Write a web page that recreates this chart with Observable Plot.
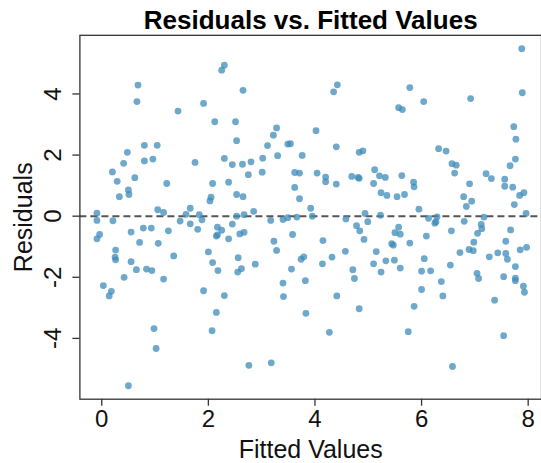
<!DOCTYPE html>
<html>
<head>
<meta charset="utf-8">
<script src="https://cdn.jsdelivr.net/npm/d3@7"></script>
<script src="https://cdn.jsdelivr.net/npm/@observablehq/plot@0.6"></script>
<style>
  html, body { margin: 0; padding: 0; background: #fff; }
</style>
</head>
<body>
<div id="chart"></div>
<script>
const fitted = [
  0.68,0.66,1.43,1.91,2.25,2.30,2.12,2.51,2.53,0.80,
  1.04,0.48,0.41,0.80,0.96,1.75,2.30,2.45,0.20,0.29,
  0.62,1.22,2.08,2.38,0.50,0.51,0.33,2.05,2.03,2.53,
  1.05,1.16,1.66,-0.09,1.58,1.83,2.53,-0.09,0.21,-0.04,
  -0.09,0.55,0.71,0.78,0.93,1.06,1.25,1.47,1.66,1.88,
  1.80,2.17,2.25,2.15,2.17,2.45,2.67,2.85,2.38,2.59,
  2.67,2.65,3.62,3.71,3.17,3.40,3.49,3.66,3.58,3.23,
  3.28,0.26,0.25,0.26,0.55,0.65,0.84,0.94,0.42,1.16,
  1.35,2.00,2.08,2.18,2.56,2.55,0.03,0.18,0.14,1.91,
  2.30,2.15,2.07,0.98,1.02,0.50,
  2.65,2.64,2.80,2.75,3.01,3.02,3.11,3.22,3.28,3.30,
  3.49,3.54,3.76,3.62,3.71,4.02,4.04,4.35,4.42,4.40,
  4.20,4.20,4.40,4.83,4.90,4.69,4.81,4.83,5.12,5.21,
  5.32,5.10,5.24,5.35,3.92,
  3.95,4.58,4.78,4.84,4.92,4.94,4.99,5.23,5.54,5.68,
  5.85,5.86,5.95,5.57,5.50,5.60,5.44,5.47,5.78,6.09,
  6.13,6.29,6.27,6.25,6.56,6.80,6.79,6.84,6.94,6.90,
  6.98,7.12,7.13,7.05,7.17,7.56,7.71,7.84,7.92,7.74,
  7.96,7.67,7.58,4.15,
  7.88,7.89,5.78,6.04,5.57,5.64,6.92,7.73,7.77,7.76,
  7.66,6.32,6.46,6.57,6.65,6.62,7.21,7.31,7.56,5.63,
  2.62,2.88,3.56,3.40,3.41,3.74,3.79,3.82,3.83,4.14,
  4.32,4.41,4.27,2.76,3.18,4.57,4.71,4.74,4.83,5.15,
  5.10,5.24,5.33,
  5.49,5.60,6.05,6.00,6.17,6.37,6.00,6.40,5.86,5.75,
  6.58,6.54,6.72,6.89,6.97,7.04,7.07,7.27,7.43,7.58,
  7.61,7.76,7.85,7.97,7.54,7.76,7.76,7.91,7.93,7.37,
  7.54
];
const residuals = [
  4.29,3.75,3.44,3.69,4.78,4.94,3.09,3.09,2.47,2.32,
  2.32,2.09,1.73,1.81,1.87,1.76,1.89,1.69,1.45,1.14,
  1.26,1.07,1.07,1.11,0.86,0.71,0.64,0.62,0.50,0.71,
  0.21,0.12,0.26,0.10,0.06,0.05,0.00,-0.14,-0.15,-0.60,
  -0.74,-0.52,-0.86,-0.39,-0.39,-0.89,-0.48,-0.16,-0.25,-0.12,
  -0.43,-0.36,-0.46,-0.65,-0.61,-0.26,0.05,0.16,-0.74,-0.58,
  -0.53,0.64,0.94,0.57,-0.14,-0.11,-0.05,-0.03,-0.60,-0.82,
  -1.12,-1.11,-1.34,-1.43,-1.49,-1.75,-1.73,-1.78,-2.00,-2.06,
  -1.30,-1.17,-1.52,-1.78,-1.36,-1.83,-2.27,-2.46,-2.61,-2.44,
  -2.60,-3.15,-3.75,-3.68,-4.33,-5.55,
  4.12,1.70,1.78,1.36,1.44,1.90,2.31,2.65,2.89,1.98,
  2.36,2.37,1.99,1.43,1.41,2.80,1.41,4.07,4.30,2.27,
  1.28,1.13,1.05,2.09,2.14,1.30,1.27,1.24,1.52,1.32,
  1.27,1.07,0.77,0.68,0.26,
  0.00,-0.09,-0.31,-0.48,-0.76,0.09,-0.18,0.03,0.64,0.71,
  1.11,0.96,0.23,-0.36,-0.54,-0.59,-0.90,-0.95,-0.88,-0.65,
  -0.07,-0.02,-0.18,-0.23,-0.48,-0.17,0.64,0.32,0.49,1.06,
  -0.85,-0.27,-0.41,-0.56,-0.03,0.98,0.95,0.68,0.77,0.38,
  0.09,-0.45,-0.82,-0.80,
  5.48,4.04,4.21,3.75,3.55,3.49,3.85,2.93,2.52,1.87,
  1.65,2.21,2.13,1.72,1.67,1.41,1.39,1.23,1.21,1.33,
  -1.72,-1.57,-1.73,-2.19,-2.63,-1.41,-1.33,-2.11,-3.18,-1.56,
  -1.34,-2.61,-3.80,-4.88,-4.80,-1.15,-1.75,-2.04,-3.03,-1.16,
  -1.56,-1.83,-1.46,
  -1.44,-1.70,-1.39,-1.80,-1.79,-2.14,-2.40,-2.61,-2.95,-3.78,
  -4.92,-1.60,-1.19,-1.09,-1.13,-1.87,-2.04,-1.33,-1.20,-1.22,
  -1.41,-1.65,-1.10,-1.02,-1.98,-2.03,-2.11,-2.29,-2.49,-2.75,
  -3.91
];
const xTicks = [0, 2, 4, 6, 8];
const yTicks = [-4, -2, 0, 2, 4];
const titleText = "Residuals vs. Fitted Values";
const xLabel = "Fitted Values";
const yLabel = "Residuals";

const data = fitted.map((f, i) => ({fitted: f, resid: residuals[i]}));
const font = "'Liberation Sans', Arial, Helvetica, sans-serif";

const chart = Plot.plot({
  width: 541,
  height: 463,
  marginLeft: 79.4,
  marginRight: 0,
  marginTop: 34.8,
  marginBottom: 64.3,
  x: {domain: [-0.41, 8.25]},
  y: {domain: [-5.99, 5.92]},
  style: {fontFamily: font, fontSize: "24px", background: "#fff", color: "#000", overflow: "visible"},
  marks: [
    Plot.ruleY([0], {stroke: "#555", strokeWidth: 2, strokeDasharray: "7,4"}),
    Plot.dot(data, {x: "fitted", y: "resid", r: 3.4, fill: "#3d8bba", fillOpacity: 0.75, stroke: "none"}),
    Plot.frame({stroke: "#333", strokeWidth: 1.3}),
    Plot.axisX(xTicks, {tickSize: 7, tickPadding: 4, label: null, stroke: "#333", strokeWidth: 1.3, fill: "#111", tickFormat: d => String(d)}),
    Plot.axisY(yTicks, {tickSize: 7, label: null, stroke: "#333", strokeWidth: 1.3, tickFormat: () => ""}),
    Plot.text(yTicks, {y: d => d, text: d => String(d), frameAnchor: "left", dx: -26.1, rotate: -90, textAnchor: "middle", lineAnchor: "middle", fontSize: 24, fill: "#111"}),
    Plot.text([yLabel], {frameAnchor: "left", dx: -56.4, rotate: -90, textAnchor: "middle", lineAnchor: "middle", fontSize: 25, fill: "#111"}),
    Plot.text([xLabel], {frameAnchor: "bottom", dy: 40.6, textAnchor: "middle", lineAnchor: "top", fontSize: 25, fill: "#111"}),
    Plot.text([titleText], {frameAnchor: "top", dy: -24.8, textAnchor: "middle", lineAnchor: "top", fontSize: 26, fontWeight: "bold", fill: "#000"})
  ]
});
document.getElementById("chart").appendChild(chart);
</script>
</body>
</html>
